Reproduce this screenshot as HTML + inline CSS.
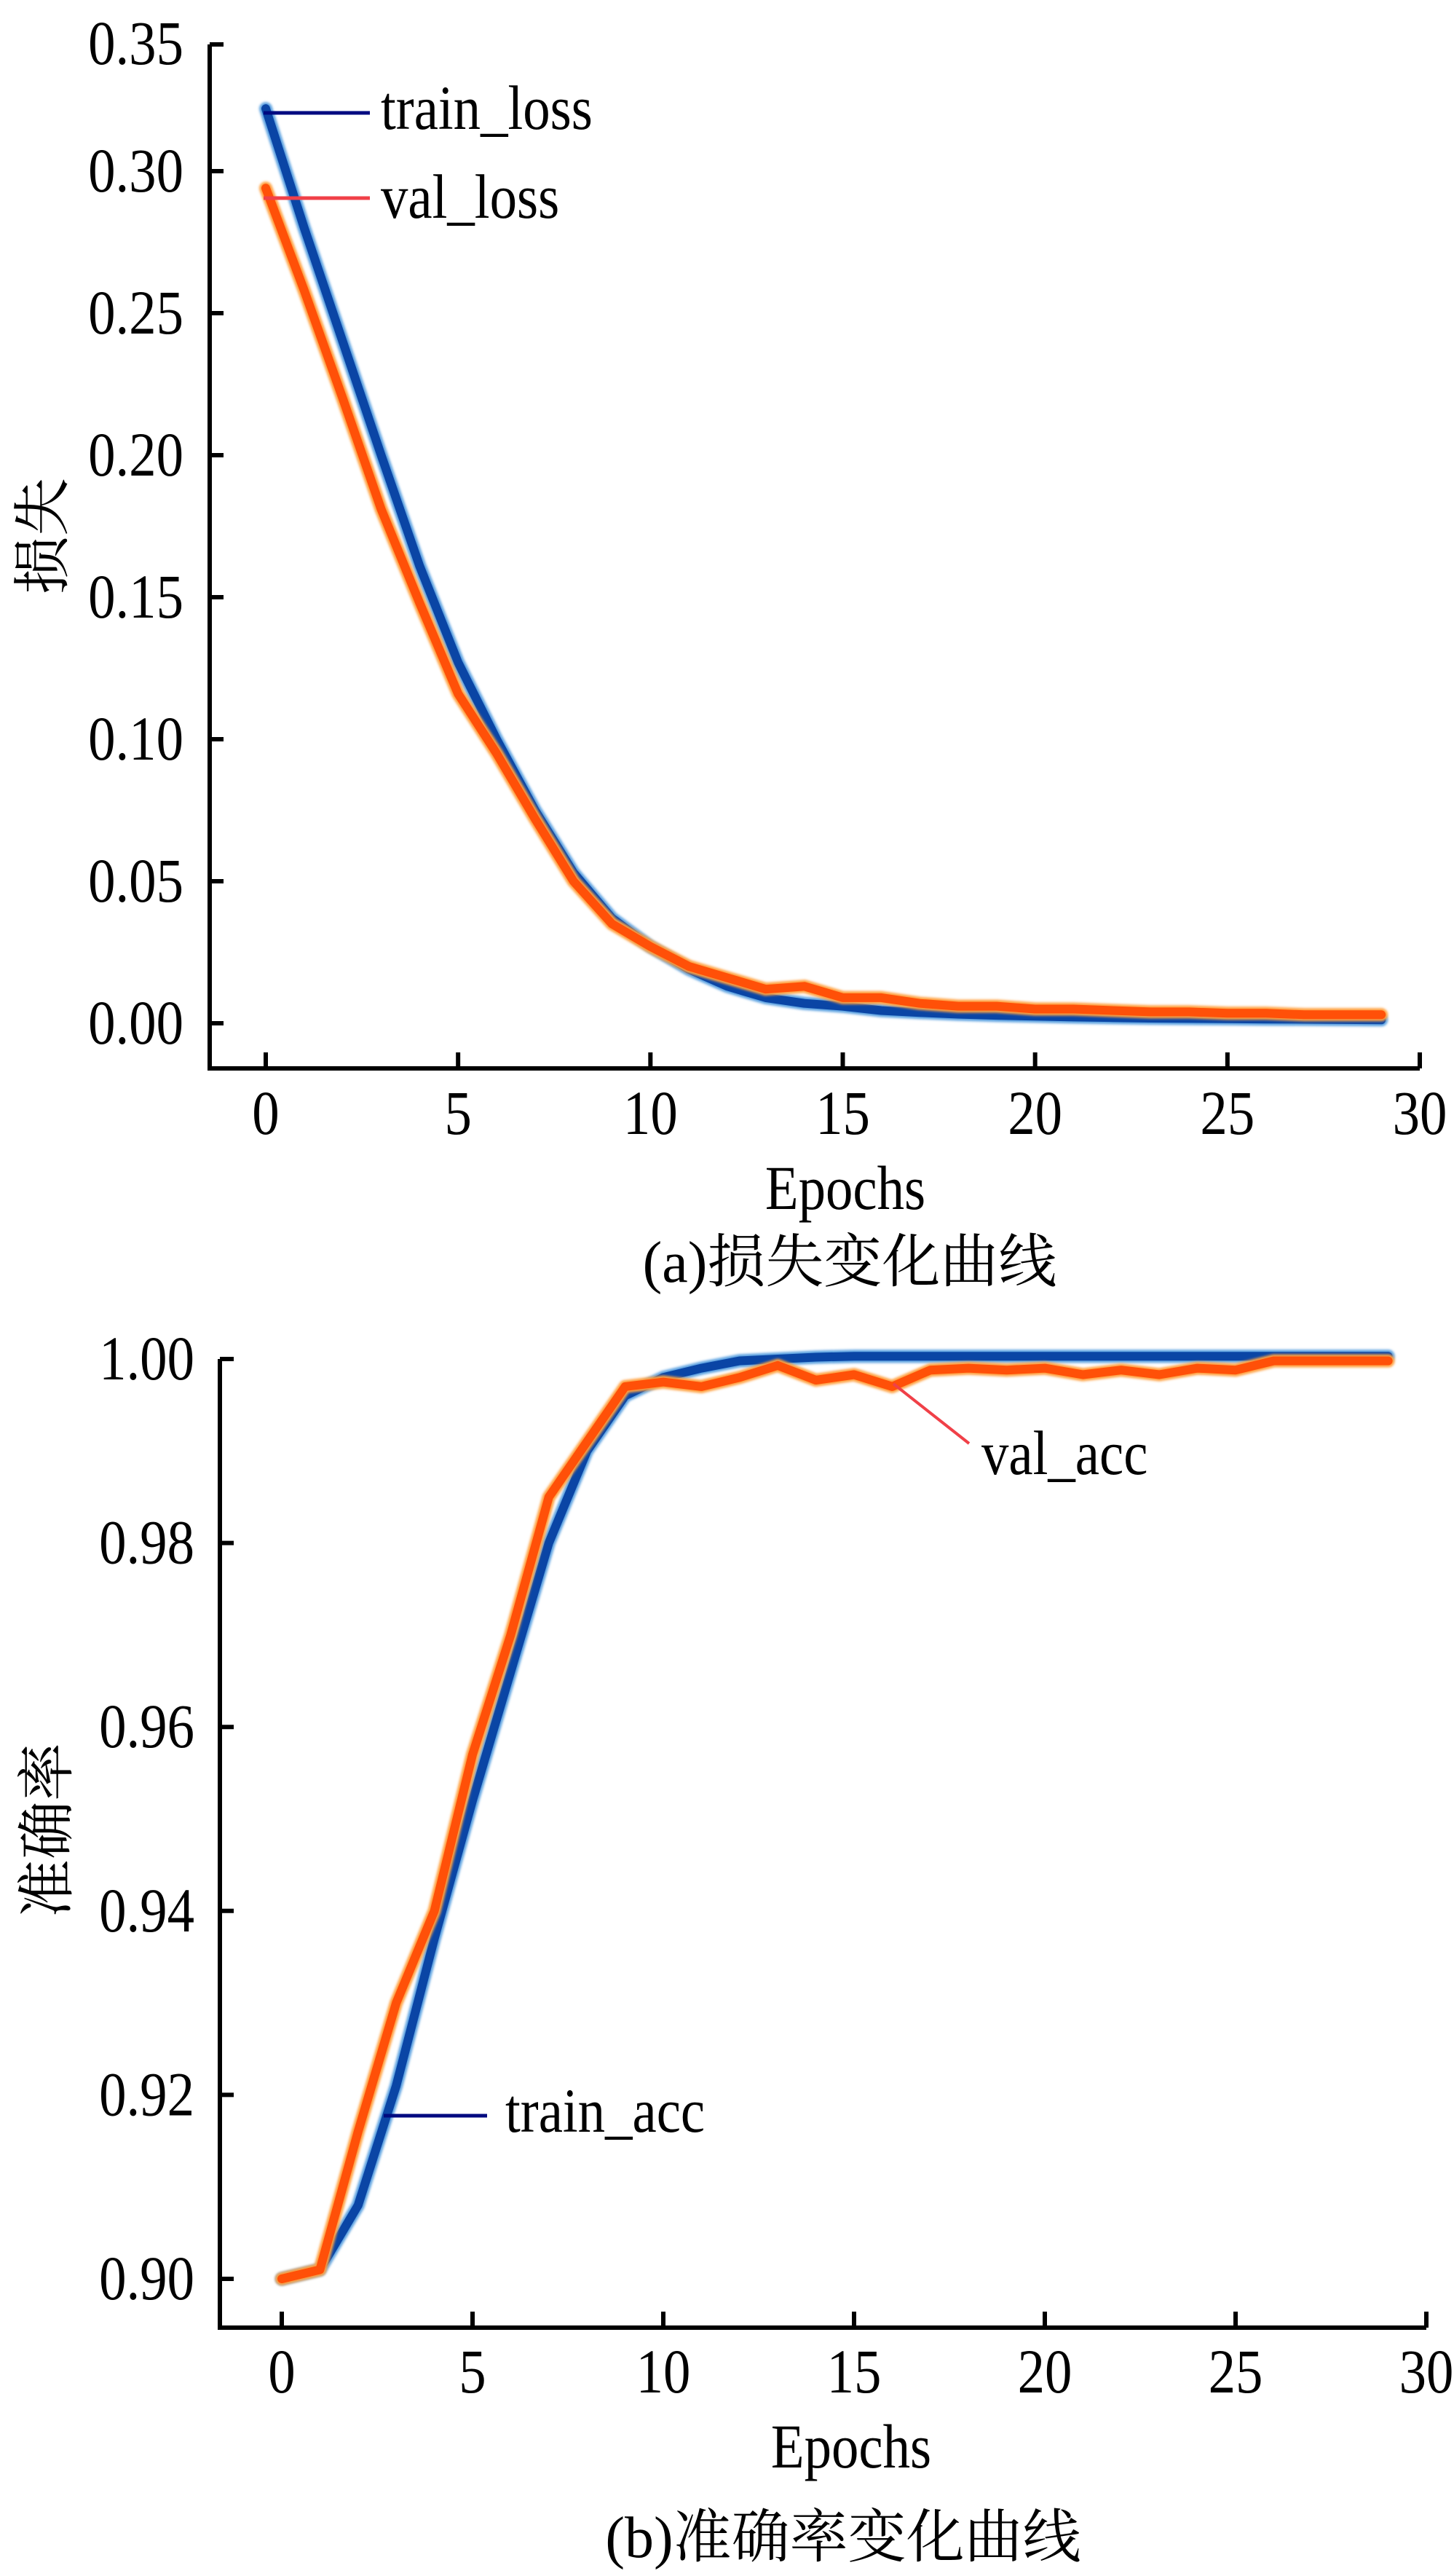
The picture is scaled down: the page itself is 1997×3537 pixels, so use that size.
<!DOCTYPE html>
<html lang="zh">
<head>
<meta charset="utf-8">
<title>Loss and accuracy curves</title>
<style>
  html,body{margin:0;padding:0;background:#fff;}
  body{width:1997px;height:3537px;overflow:hidden;}
  svg{display:block;}
  .tick{font-family:"Liberation Serif","Noto Serif CJK SC",serif;font-size:86px;fill:#000;}
  .cjk{font-family:"Liberation Serif","Noto Serif CJK SC","Noto Sans CJK SC",serif;font-size:80px;fill:#000;}
</style>
</head>
<body>
<svg id="chart" width="1997" height="3537" viewBox="0 0 1997 3537" xmlns="http://www.w3.org/2000/svg">
  <defs>
    <filter id="blur" x="-5%" y="-5%" width="110%" height="110%"><feGaussianBlur stdDeviation="1.6"/></filter>
  </defs>
  <g id="panelA"></g>
  <g id="panelB"></g>
</svg>
<script>
// ---------- data ----------
const epochs = [0,1,2,3,4,5,6,7,8,9,10,11,12,13,14,15,16,17,18,19,20,21,22,23,24,25,26,27,28,29];
const trainLoss = [0.322,0.280,0.240,0.200,0.161,0.127,0.100,0.075,0.053,0.037,0.027,0.019,0.013,0.009,0.007,0.006,0.0045,0.0038,0.0032,0.0028,0.0025,0.0022,0.002,0.0018,0.0017,0.0016,0.0015,0.0014,0.0013,0.0012];
const valLoss = [0.294,0.258,0.220,0.181,0.148,0.116,0.095,0.072,0.050,0.035,0.027,0.020,0.016,0.012,0.013,0.009,0.009,0.007,0.006,0.006,0.005,0.005,0.0045,0.004,0.004,0.0035,0.0035,0.003,0.003,0.003];
const trainAcc = [0.900,0.901,0.908,0.921,0.937,0.952,0.966,0.980,0.990,0.996,0.998,0.999,0.9998,1.0000,1.0002,1.0003,1.0003,1.0003,1.0003,1.0003,1.0003,1.0003,1.0003,1.0003,1.0003,1.0003,1.0003,1.0003,1.0003,1.0003];
const valAcc = [0.900,0.901,0.916,0.930,0.940,0.957,0.970,0.985,0.991,0.997,0.9975,0.997,0.998,0.9993,0.9977,0.9983,0.997,0.9988,0.999,0.9988,0.999,0.9983,0.9988,0.9983,0.999,0.9988,0.9998,0.9998,0.9998,0.9998];
const xTicks = [0,5,10,15,20,25,30];
const lossTicks = ["0.00","0.05","0.10","0.15","0.20","0.25","0.30"];
const accTicks = ["0.90","0.92","0.94","0.96","0.98","1.00"];

const NS = "http://www.w3.org/2000/svg";
function mk(parent, tag, attrs, text){
  const e = document.createElementNS(NS, tag);
  for (const k in attrs) e.setAttribute(k, attrs[k]);
  if (text !== undefined) e.textContent = text;
  parent.appendChild(e);
  return e;
}
// narrow tall Latin text
function txt(parent, x, y, anchor, s){
  return mk(parent, 'text', {class:'tick', x:0, y:0, 'text-anchor':anchor, transform:'translate(' + x + ' ' + y + ') scale(0.87 1)'}, s);
}

// ---------- Panel A: loss ----------
const A = document.getElementById('panelA');
const ax = e => 365 + (1950 - 365) * e / 30;
const ay = v => 1405 - v * 3900;

let el = mk(A, 'path', {d:'M288 61 L288 1467 L1950 1467', fill:'none', stroke:'#000', 'stroke-width':6});


el = mk(A, 'line', {x1:288, y1:61, x2:307, y2:61, stroke:'#000', 'stroke-width':6});


el = txt(A, 252, 88, 'end', '0.35');


lossTicks.forEach(t => {
  const y = ay(parseFloat(t));
  let l = mk(A, 'line', {x1:288, y1:y, x2:307, y2:y, stroke:'#000', 'stroke-width':6});
  
  
  let tx = txt(A, 252, y + 28, 'end', t);
  
  
});
xTicks.forEach(t => {
  const x = ax(t);
  let l = mk(A, 'line', {x1:x, y1:1467, x2:x, y2:1445, stroke:'#000', 'stroke-width':6});
  
  
  let tx = txt(A, x, 1557, 'middle', String(t));
  
  
});
el = txt(A, 1161, 1660, 'middle', 'Epochs');


el = mk(A, 'text', {class:'cjk', x:0, y:0, 'text-anchor':'middle', transform:'translate(86 736) rotate(-90)'}, '损失');


el = mk(A, 'text', {class:'cjk', x:1167, y:1760, 'text-anchor':'middle'}, '(a)损失变化曲线');



function series(parent, xs, ys, fx, fy, color, halo, name){
  const d = xs.map((e,i) => (i ? 'L' : 'M') + fx(e).toFixed(1) + ' ' + fy(ys[i]).toFixed(1)).join(' ');
  const h = mk(parent, 'path', {d:d, fill:'none', stroke:halo, 'stroke-width':18, 'stroke-linejoin':'round', 'stroke-linecap':'round', filter:'url(#blur)'});
  
  
  const p = mk(parent, 'path', {d:d, fill:'none', stroke:color, 'stroke-width':12, 'stroke-linejoin':'round', 'stroke-linecap':'round'});
  
  
}
series(A, epochs, trainLoss, ax, ay, '#0a45a5', '#5aa0e0', 'train-loss-line');
series(A, epochs, valLoss, ax, ay, '#ff5008', '#ffa040', 'val-loss-line');

el = mk(A, 'line', {x1:362, y1:155, x2:508, y2:155, stroke:'#000a80', 'stroke-width':5});


el = txt(A, 523, 177, 'start', 'train_loss');


el = mk(A, 'line', {x1:362, y1:272, x2:508, y2:272, stroke:'#f04048', 'stroke-width':5});


el = txt(A, 523, 299, 'start', 'val_loss');



// ---------- Panel B: accuracy ----------
const B = document.getElementById('panelB');
const bx = e => 387 + (1959 - 387) * e / 30;
const by = v => 1866 + (1 - v) * (3129 - 1866) / 0.10;

el = mk(B, 'path', {d:'M302 1866 L302 3196 L1959 3196', fill:'none', stroke:'#000', 'stroke-width':6});


accTicks.forEach(t => {
  const y = by(parseFloat(t));
  let l = mk(B, 'line', {x1:302, y1:y, x2:321, y2:y, stroke:'#000', 'stroke-width':6});
  
  
  let tx = txt(B, 267, y + 28, 'end', t);
  
  
});
xTicks.forEach(t => {
  const x = bx(t);
  let l = mk(B, 'line', {x1:x, y1:3196, x2:x, y2:3174, stroke:'#000', 'stroke-width':6});
  
  
  let tx = txt(B, x, 3285, 'middle', String(t));
  
  
});
el = txt(B, 1169, 3388, 'middle', 'Epochs');


el = mk(B, 'text', {class:'cjk', x:0, y:0, 'text-anchor':'middle', transform:'translate(92 2513) rotate(-90)'}, '准确率');


el = mk(B, 'text', {class:'cjk', x:1158, y:3511, 'text-anchor':'middle'}, '(b)准确率变化曲线');



series(B, epochs, trainAcc, bx, by, '#0a45a5', '#5aa0e0', 'train-acc-line');
series(B, epochs, valAcc, bx, by, '#ff5008', '#ffa040', 'val-acc-line');

el = mk(B, 'line', {x1:527, y1:2905, x2:669, y2:2905, stroke:'#000a80', 'stroke-width':5});


el = txt(B, 694, 2927, 'start', 'train_acc');


el = mk(B, 'line', {x1:1227, y1:1900, x2:1331, y2:1982, stroke:'#f04048', 'stroke-width':4});


el = txt(B, 1348, 2024, 'start', 'val_acc');


</script>
</body>
</html>
